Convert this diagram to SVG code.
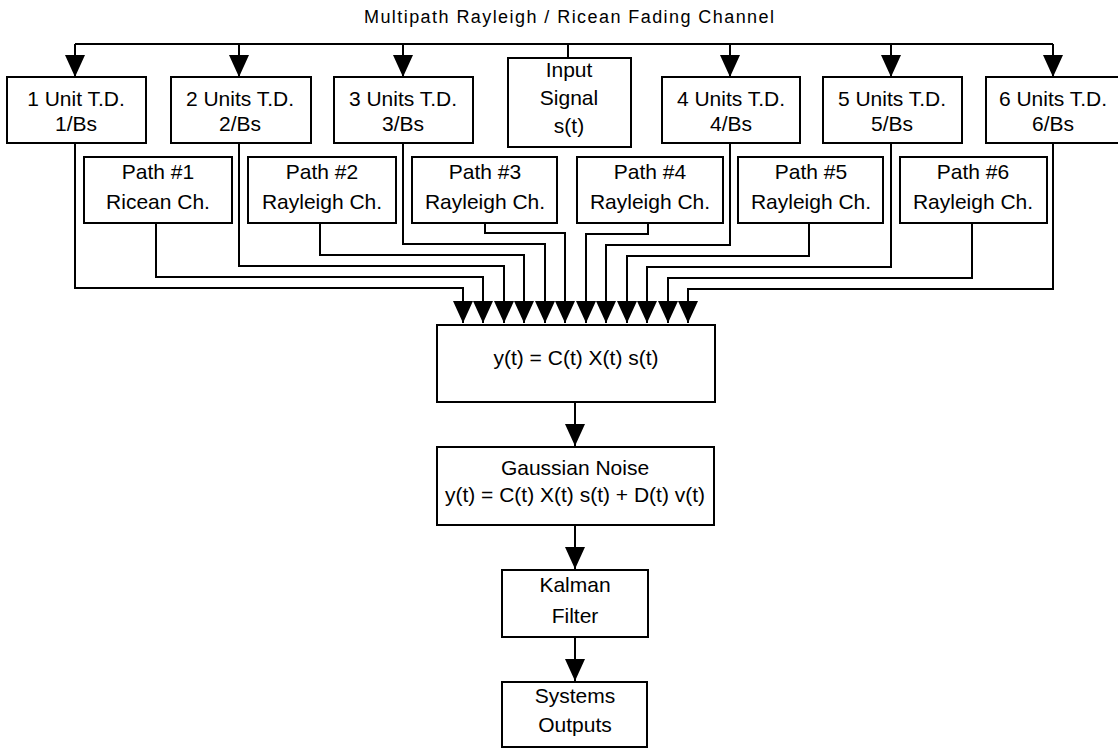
<svg xmlns="http://www.w3.org/2000/svg" width="1118" height="749" viewBox="0 0 1118 749">
<style>
.box{fill:#fff;stroke:#000;stroke-width:2}
.t{font-family:"Liberation Sans",Arial,sans-serif;font-size:21px;fill:#000;text-anchor:middle}
.title{font-family:"Liberation Sans",Arial,sans-serif;font-size:18px;fill:#000;text-anchor:middle}
.w{fill:none;stroke:#000;stroke-width:2}
</style>
<defs>
<marker id="ah" markerUnits="userSpaceOnUse" viewBox="0 0 22 20" markerWidth="22" markerHeight="20" refX="22" refY="10" orient="auto">
<path d="M0,0 L22,10 L0,20 z" fill="#000"/>
</marker>
</defs>
<rect width="1118" height="749" fill="#fff"/>
<text class="title" x="569" y="23" textLength="410" lengthAdjust="spacing">Multipath Rayleigh / Ricean Fading Channel</text>

<g id="connectors">
<path class="w" d="M75,44 L1053,44"/>
<path class="w" d="M75,44 L75,77" marker-end="url(#ah)"/>
<path class="w" d="M239,44 L239,77" marker-end="url(#ah)"/>
<path class="w" d="M403,44 L403,77" marker-end="url(#ah)"/>
<path class="w" d="M568,44 L568,58"/>
<path class="w" d="M730,44 L730,77" marker-end="url(#ah)"/>
<path class="w" d="M891,44 L891,77" marker-end="url(#ah)"/>
<path class="w" d="M1053,44 L1053,77" marker-end="url(#ah)"/>

<path class="w" d="M75,143 L75,288 L463,288 L463,323" marker-end="url(#ah)"/>
<path class="w" d="M156,223 L156,277 L483,277 L483,323" marker-end="url(#ah)"/>
<path class="w" d="M239,143 L239,266 L504,266 L504,323" marker-end="url(#ah)"/>
<path class="w" d="M320,223 L320,255 L524,255 L524,323" marker-end="url(#ah)"/>
<path class="w" d="M403,143 L403,244 L545,244 L545,323" marker-end="url(#ah)"/>
<path class="w" d="M485,223 L485,233 L565,233 L565,323" marker-end="url(#ah)"/>
<path class="w" d="M648,223 L648,234 L586,234 L586,323" marker-end="url(#ah)"/>
<path class="w" d="M730,143 L730,245 L606,245 L606,323" marker-end="url(#ah)"/>
<path class="w" d="M809,223 L809,256 L627,256 L627,323" marker-end="url(#ah)"/>
<path class="w" d="M891,143 L891,267 L647,267 L647,323" marker-end="url(#ah)"/>
<path class="w" d="M972,223 L972,278 L668,278 L668,323" marker-end="url(#ah)"/>
<path class="w" d="M1053,143 L1053,289 L688,289 L688,323" marker-end="url(#ah)"/>

<path class="w" d="M575,402 L575,446" marker-end="url(#ah)"/>
<path class="w" d="M575,525 L575,569" marker-end="url(#ah)"/>
<path class="w" d="M575,637 L575,681" marker-end="url(#ah)"/>
</g>

<g id="td1"><rect class="box" x="7" y="77" width="139" height="66"/><text class="t" x="76" y="106">1 Unit T.D.</text><text class="t" x="76" y="131">1/Bs</text></g>
<g id="td2"><rect class="box" x="171" y="77" width="140" height="66"/><text class="t" x="240" y="106">2 Units T.D.</text><text class="t" x="240" y="131">2/Bs</text></g>
<g id="td3"><rect class="box" x="334" y="77" width="139" height="66"/><text class="t" x="403" y="106">3 Units T.D.</text><text class="t" x="403" y="131">3/Bs</text></g>
<g id="input"><rect class="box" x="508" y="58" width="123" height="89"/><text class="t" x="569" y="77">Input</text><text class="t" x="569" y="105">Signal</text><text class="t" x="569" y="133">s(t)</text></g>
<g id="td4"><rect class="box" x="662" y="77" width="138" height="66"/><text class="t" x="731" y="106">4 Units T.D.</text><text class="t" x="731" y="131">4/Bs</text></g>
<g id="td5"><rect class="box" x="823" y="77" width="139" height="66"/><text class="t" x="892" y="106">5 Units T.D.</text><text class="t" x="892" y="131">5/Bs</text></g>
<g id="td6"><rect class="box" x="986" y="77" width="140" height="66"/><text class="t" x="1053" y="106">6 Units T.D.</text><text class="t" x="1053" y="131">6/Bs</text></g>

<g id="p1"><rect class="box" x="84" y="157" width="148" height="66"/><text class="t" x="158" y="179">Path #1</text><text class="t" x="158" y="209">Ricean Ch.</text></g>
<g id="p2"><rect class="box" x="248" y="157" width="148" height="66"/><text class="t" x="322" y="179">Path #2</text><text class="t" x="322" y="209">Rayleigh Ch.</text></g>
<g id="p3"><rect class="box" x="412" y="157" width="145" height="66"/><text class="t" x="485" y="179">Path #3</text><text class="t" x="485" y="209">Rayleigh Ch.</text></g>
<g id="p4"><rect class="box" x="577" y="157" width="146" height="66"/><text class="t" x="650" y="179">Path #4</text><text class="t" x="650" y="209">Rayleigh Ch.</text></g>
<g id="p5"><rect class="box" x="738" y="157" width="145" height="66"/><text class="t" x="811" y="179">Path #5</text><text class="t" x="811" y="209">Rayleigh Ch.</text></g>
<g id="p6"><rect class="box" x="900" y="157" width="147" height="66"/><text class="t" x="973" y="179">Path #6</text><text class="t" x="973" y="209">Rayleigh Ch.</text></g>

<g id="mix"><rect class="box" x="437" y="325" width="278" height="77"/><text class="t" x="576" y="365">y(t) = C(t) X(t) s(t)</text></g>
<g id="noise"><rect class="box" x="437" y="447" width="277" height="78"/><text class="t" x="575" y="475">Gaussian Noise</text><text class="t" x="575" y="502">y(t) = C(t) X(t) s(t) + D(t) v(t)</text></g>
<g id="kalman"><rect class="box" x="502" y="570" width="146" height="67"/><text class="t" x="575" y="592">Kalman</text><text class="t" x="575" y="623">Filter</text></g>
<g id="outputs"><rect class="box" x="502" y="682" width="145" height="65"/><text class="t" x="575" y="703">Systems</text><text class="t" x="575" y="732">Outputs</text></g>
</svg>
